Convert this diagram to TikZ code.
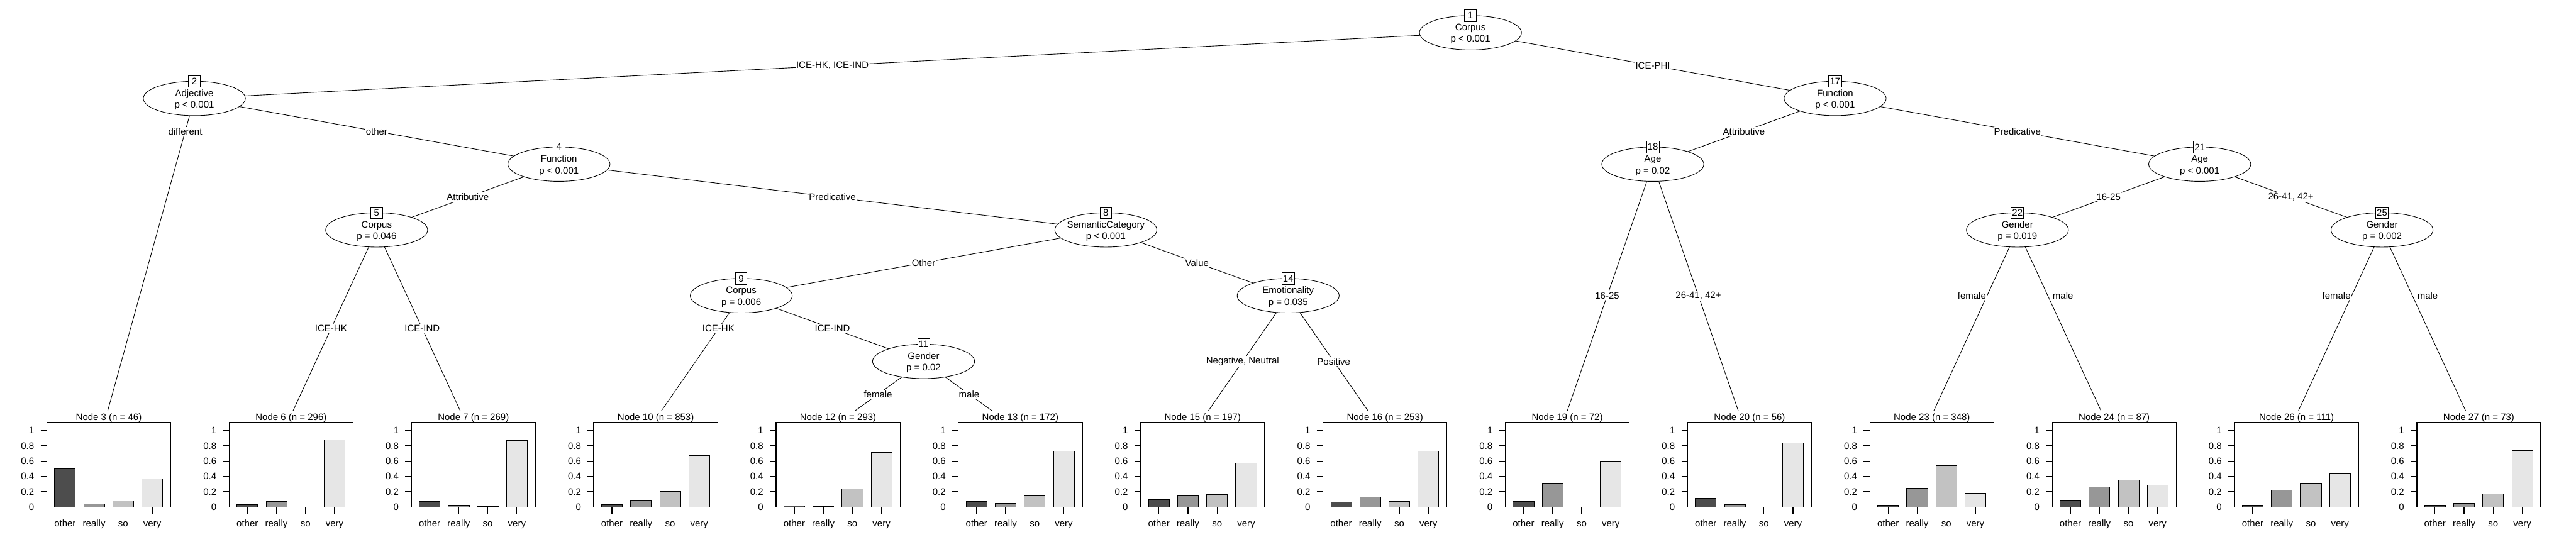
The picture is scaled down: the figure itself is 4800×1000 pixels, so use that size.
\documentclass[tikz,border=0pt]{standalone}
\usepackage{fontspec}
\setmainfont{Liberation Sans}
\usetikzlibrary{shapes.geometric}
\pgfdeclarelayer{bglayer}
\pgfdeclarelayer{edgelayer}
\pgfsetlayers{bglayer,edgelayer,main}
\definecolor{cOther}{HTML}{4D4D4D}
\definecolor{cReally}{HTML}{979797}
\definecolor{cSo}{HTML}{C2C2C2}
\definecolor{cVery}{HTML}{E6E6E6}
\newcommand\ff{\fontsize{5}{6}\selectfont}
\tikzset{
  txt/.style={font=\ff, inner sep=0pt},
  ell/.style={draw, ellipse, fill=white, minimum width=1.9cm, minimum height=0.64cm, inner sep=0pt, line width=0.3pt},
  idbox/.style={draw, fill=white, font=\ff, minimum width=0.216cm, minimum height=0.216cm, inner xsep=0.02cm, inner ysep=0pt, line width=0.3pt},
  conn/.style={line width=0.3pt},
  elab/.style={fill=white, font=\ff, inner xsep=0.01cm, inner ysep=0.02cm},
  boxline/.style={line width=0.4pt},
  barline/.style={line width=0.3pt},
}
\newcommand\innernode[6]{%
  \node[ell] (#1) at (#2,#3) {};
  \node[idbox] (#1id) at (#2,{#3-32}) {#4};
  \node[txt,anchor=base] (#1v) at (#2,{#3-4}) {#5};
  \node[txt,anchor=base] (#1p) at (#2,{#3+17.5}) {#6};
}
\newcommand\barpanel[7]{%
  \begin{scope}[shift={(#1,0)}]
    \fill[white] (-169,765) rectangle (169,1000);
    \node[txt,anchor=base] (title#2) at (10.5,783) {Node #2 (n = #3)};
    \foreach \v/\c [count=\j from 0] in {#4/cOther,#5/cReally,#6/cSo,#7/cVery} {
      \pgfmathsetmacro\bl{-105+14.5+54.2*\j}
      \draw[barline, fill=\c] (\bl,945) rectangle ({\bl+38.8},{945-142.6*\v});
    }
    \draw[boxline] (-105,787) rectangle (126,945);
    \foreach \t [count=\k] in {0,0.2,0.4,0.6,0.8,1} {
      \draw[boxline] (-116.5,{945-142.6*\t}) -- (-105,{945-142.6*\t});
      \node[txt,anchor=east] (yl#2-\k) at (-128,{945-142.6*\t}) {\t};
    }
    \foreach \lab [count=\j from 0] in {other,really,so,very} {
      \draw[boxline] ({-71.1+54.2*\j},945) -- ({-71.1+54.2*\j},957);
      \node[txt,anchor=base] (xl#2-\j) at ({-71.1+54.2*\j},982) {\lab};
    }
  \end{scope}
}
\begin{document}
\begin{tikzpicture}[x=0.01cm,y=-0.01cm]
\useasboundingbox (0,0) rectangle (4800,1000);
\begin{pgfonlayer}{bglayer}
  \fill[white] (0,0) rectangle (4800,1000);
\end{pgfonlayer}

% inner nodes
\innernode{n1}{2740}{61}{1}{Corpus}{p < 0.001}
\innernode{n2}{362.1}{183.5}{2}{Adjective}{p < 0.001}
\innernode{n4}{1041.5}{306}{4}{Function}{p < 0.001}
\innernode{n5}{701.8}{428.5}{5}{Corpus}{p = 0.046}
\innernode{n8}{2060.6}{428.5}{8}{SemanticCategory}{p < 0.001}
\innernode{n9}{1381.2}{551}{9}{Corpus}{p = 0.006}
\innernode{n11}{1720.9}{673.5}{11}{Gender}{p = 0.02}
\innernode{n14}{2400.3}{551}{14}{Emotionality}{p = 0.035}
\innernode{n17}{3419.4}{183.5}{17}{Function}{p < 0.001}
\innernode{n18}{3079.7}{306}{18}{Age}{p = 0.02}
\innernode{n21}{4098.8}{306}{21}{Age}{p < 0.001}
\innernode{n22}{3759.1}{428.5}{22}{Gender}{p = 0.019}
\innernode{n25}{4438.5}{428.5}{25}{Gender}{p = 0.002}

% terminal attachment points
\coordinate (t3) at (192.25,796);
\coordinate (t6) at (531.95,796);
\coordinate (t7) at (871.65,796);
\coordinate (t10) at (1211.35,796);
\coordinate (t12) at (1551.05,796);
\coordinate (t13) at (1890.75,796);
\coordinate (t15) at (2230.45,796);
\coordinate (t16) at (2570.15,796);
\coordinate (t19) at (2909.85,796);
\coordinate (t20) at (3249.55,796);
\coordinate (t23) at (3589.25,796);
\coordinate (t24) at (3928.95,796);
\coordinate (t26) at (4268.65,796);
\coordinate (t27) at (4608.35,796);

\begin{pgfonlayer}{edgelayer}
  \draw[conn] (n1.center) -- node[elab,pos=0.5] (e1a) {ICE-HK, ICE-IND} (n2.center);
  \draw[conn] (n1.center) -- node[elab,pos=0.5] (e1b) {ICE-PHI} (n17.center);
  \draw[conn] (n2.center) -- node[elab,pos=0.1] (e2a) {different} (t3);
  \draw[conn] (n2.center) -- node[elab,pos=0.5] (e2b) {other} (n4.center);
  \draw[conn] (n4.center) -- node[elab,pos=0.5] (e4a) {Attributive} (n5.center);
  \draw[conn] (n4.center) -- node[elab,pos=0.5] (e4b) {Predicative} (n8.center);
  \draw[conn] (n5.center) -- node[elab,pos=0.5] (e5a) {ICE-HK} (t6);
  \draw[conn] (n5.center) -- node[elab,pos=0.5] (e5b) {ICE-IND} (t7);
  \draw[conn] (n8.center) -- node[elab,pos=0.5] (e8a) {Other} (n9.center);
  \draw[conn] (n8.center) -- node[elab,pos=0.5] (e8b) {Value} (n14.center);
  \draw[conn] (n9.center) -- node[elab,pos=0.25] (e9a) {ICE-HK} (t10);
  \draw[conn] (n9.center) -- node[elab,pos=0.5] (e9b) {ICE-IND} (n11.center);
  \draw[conn] (n11.center) -- node[elab,pos=0.5] (e11a) {female} (t12);
  \draw[conn] (n11.center) -- node[elab,pos=0.5] (e11b) {male} (t13);
  \draw[conn] (n14.center) -- node[elab,pos=0.5] (e14a) {Negative, Neutral} (t15);
  \draw[conn] (n14.center) -- node[elab,pos=0.5] (e14b) {Positive} (t16);
  \draw[conn] (n17.center) -- node[elab,pos=0.5] (e17a) {Attributive} (n18.center);
  \draw[conn] (n17.center) -- node[elab,pos=0.5] (e17b) {Predicative} (n21.center);
  \draw[conn] (n18.center) -- node[elab,pos=0.5] (e18a) {16-25} (t19);
  \draw[conn] (n18.center) -- node[elab,pos=0.5] (e18b) {26-41, 42+} (t20);
  \draw[conn] (n21.center) -- node[elab,pos=0.5] (e21a) {16-25} (n22.center);
  \draw[conn] (n21.center) -- node[elab,pos=0.5] (e21b) {26-41, 42+} (n25.center);
  \draw[conn] (n22.center) -- (t23);
  \draw[conn] (n22.center) -- (t24);
  \draw[conn] (n25.center) -- (t26);
  \draw[conn] (n25.center) -- (t27);
  \node[elab] (e22a) at (3674.2,551) {female};
  \node[elab] (e22b) at (3844.0,551) {male};
  \node[elab] (e25a) at (4353.6,551) {female};
  \node[elab] (e25b) at (4523.4,551) {male};
\end{pgfonlayer}

% terminal panels
\barpanel{192.25}{3}{46}{0.498}{0.042}{0.084}{0.371}
\barpanel{531.95}{6}{296}{0.035}{0.077}{0}{0.876}
\barpanel{871.65}{7}{269}{0.075}{0.026}{0.012}{0.874}
\barpanel{1211.35}{10}{853}{0.033}{0.089}{0.203}{0.671}
\barpanel{1551.05}{12}{293}{0.019}{0.012}{0.236}{0.715}
\barpanel{1890.75}{13}{172}{0.070}{0.047}{0.145}{0.729}
\barpanel{2230.45}{15}{197}{0.096}{0.145}{0.166}{0.579}
\barpanel{2570.15}{16}{253}{0.063}{0.133}{0.075}{0.729}
\barpanel{2909.85}{19}{72}{0.075}{0.313}{0}{0.596}
\barpanel{3249.55}{20}{56}{0.117}{0.033}{0}{0.839}
\barpanel{3589.25}{23}{348}{0.028}{0.245}{0.540}{0.182}
\barpanel{3928.95}{24}{87}{0.091}{0.266}{0.357}{0.287}
\barpanel{4268.65}{26}{111}{0.021}{0.224}{0.315}{0.435}
\barpanel{4608.35}{27}{73}{0.021}{0.049}{0.175}{0.743}
\end{tikzpicture}
\end{document}
